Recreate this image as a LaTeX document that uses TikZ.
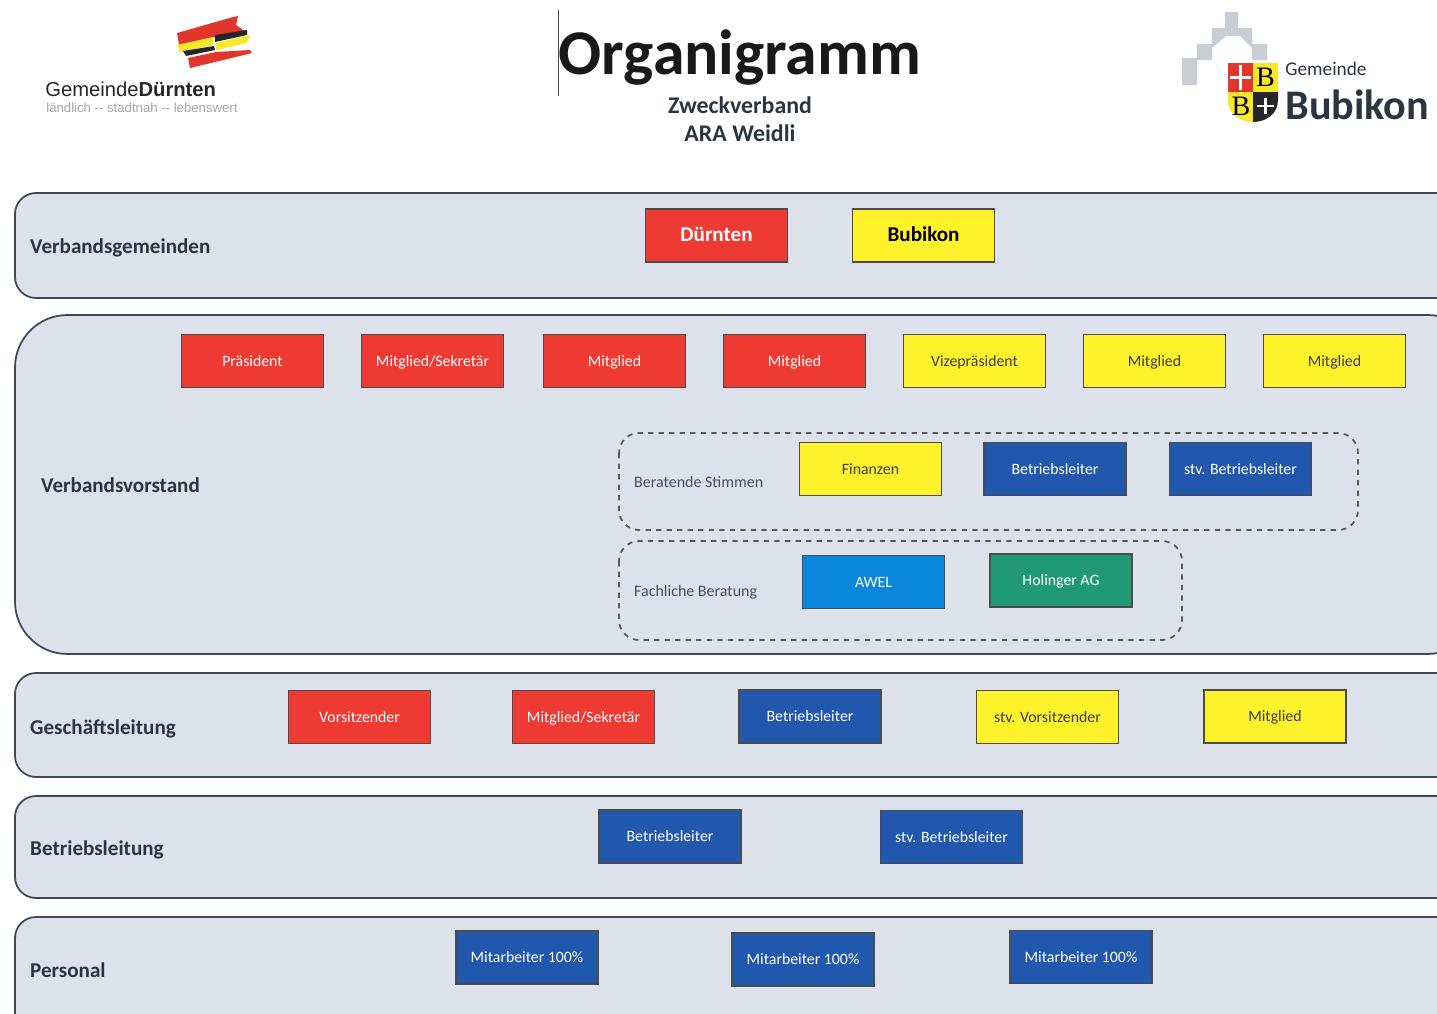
\documentclass[tikz,border=0pt]{standalone}
\usepackage{fontspec}
\setmainfont{Carlito}
\newfontfamily\logofont{Liberation Sans}
\newfontfamily\shieldfont{Liberation Serif}
\usetikzlibrary{calc}
\definecolor{panelfill}{HTML}{DCE1EC}
\definecolor{paneldraw}{HTML}{3E4A57}
\definecolor{textdark}{HTML}{2B3540}
\definecolor{textsoft}{HTML}{46505F}
\definecolor{boxred}{HTML}{EE3A33}
\definecolor{boxyellow}{HTML}{FFF22A}
\definecolor{boxblue}{HTML}{2257AE}
\definecolor{boxsky}{HTML}{0A86DC}
\definecolor{boxgreen}{HTML}{1F9A72}
\definecolor{logored}{HTML}{E2352C}
\definecolor{logoyellow}{HTML}{F7E92A}
\definecolor{logogray}{HTML}{C9CDD6}
\tikzset{
  panel/.style={draw=paneldraw, fill=panelfill, line width=0.35mm},
  panellabel/.style={anchor=west, text=textdark, font=\fontsize{12}{14}\selectfont\bfseries},
  memberbox/.style={draw=black!70, line width=0.3mm, minimum width=2.84cm, minimum height=1.06cm, inner sep=0pt, text height=1.7ex, text depth=0.5ex, font=\fontsize{9}{11}\selectfont},
  redbox/.style={memberbox, fill=boxred, text=white},
  yellowbox/.style={memberbox, fill=boxyellow, text=black!75},
  bluebox/.style={memberbox, fill=boxblue, text=white},
  skybox/.style={memberbox, fill=boxsky, text=white},
  greenbox/.style={memberbox, fill=boxgreen, text=white},
  dashpanel/.style={draw=black!65, dashed, line width=0.35mm, rounded corners=0.4cm},
  dashlabel/.style={anchor=west, text=textsoft, font=\fontsize{9.1}{11}\selectfont},
}
\begin{document}
\begin{tikzpicture}[x=0.02cm, y=-0.02cm]
	%%%%% START %%%%%
	\clip (0, 0) rectangle (1437, 1014);
	\fill[white] (0, 0) rectangle (1437, 1014);

	% title
	\draw[line width=0.2mm, black!70] (558, 10) -- (558, 96);
	\node[text=black!90] (title) at (740, 58) {\fontsize{36.3}{38}\selectfont\bfseries Organigramm};
	\node[text=textdark] (titlea) at (740, 105) {\fontsize{13.6}{15}\selectfont\bfseries Zweckverband};
	\node[text=textdark] (titleb) at (740, 133) {\fontsize{13.6}{15}\selectfont\bfseries ARA Weidli};

	% logo left
	\fill[logored] (177, 33) -- (233, 17) -- (238, 16) -- (236, 25) -- (246, 32) -- (215, 37) -- (179, 45) -- cycle;
	\fill[logored] (188, 58) -- (216, 52) -- (250, 50) -- (252, 53) -- (215, 62) -- (190, 68) -- cycle;
	\fill[black!85] (215, 35) -- (247, 30) -- (247, 35) -- (215, 42) -- cycle;
	\fill[logoyellow] (216, 43) -- (250, 35) -- (247, 43) -- (216, 50) -- cycle;
	\fill[logoyellow] (177, 45) -- (213, 37) -- (213, 45) -- (180, 52) -- cycle;
	\fill[black!85] (183, 51) -- (214, 46) -- (215, 50) -- (186, 56) -- cycle;
	\node[anchor=west, inner sep=0pt, text=black!85] (gemeindea) at (45, 89) {\logofont\fontsize{11.5}{13}\selectfont Gemeinde\textbf{Dürnten}};
	\node[anchor=west, inner sep=0pt, text=black!35] (sloganleft) at (46, 108) {\logofont\fontsize{7.5}{9}\selectfont ländlich -- stadtnah -- lebenswert};

	% logo right
	\fill[logogray] (1182, 58) -- (1197, 58) -- (1197, 44) -- (1212, 44) -- (1212, 28) -- (1225, 28) -- (1225, 12) -- (1238, 12) -- (1238, 28) -- (1252, 28) -- (1252, 44) -- (1267, 44) -- (1267, 60) -- (1252, 60) -- (1252, 48) -- (1240, 36) -- (1226, 36) -- (1212, 48) -- (1212, 60) -- (1197, 60) -- (1197, 85) -- (1182, 85) -- cycle;
	\fill[logored] (1228, 63) rectangle (1253, 92);
	\fill[logoyellow] (1253, 63) rectangle (1278, 92);
	\fill[logoyellow] (1228, 92) -- (1253, 92) -- (1253, 122) .. controls (1240, 122) and (1228, 114) .. (1228, 100) -- cycle;
	\fill[black!85] (1253, 92) -- (1278, 92) -- (1278, 100) .. controls (1278, 114) and (1266, 122) .. (1253, 122) -- cycle;
	\draw[white, line width=0.5mm] (1240.5, 65) -- (1240.5, 90) (1230, 77.5) -- (1251, 77.5) (1265.5, 98) -- (1265.5, 114) (1257, 106) -- (1274, 106);
	\node[inner sep=0pt] (shieldb) at (1265.5, 77) {\shieldfont\fontsize{16}{18}\selectfont B};
	\node[inner sep=0pt] (shieldc) at (1241, 106) {\shieldfont\fontsize{16}{18}\selectfont B};
	\node[anchor=west, inner sep=0pt, text=textdark] (gemeindeb) at (1285, 69) {\fontsize{11}{13}\selectfont Gemeinde};
	\node[anchor=west, inner sep=0pt, text=textdark] (bubikon) at (1285, 105) {\fontsize{24}{27}\selectfont\bfseries Bubikon};

	% panels
	\draw[panel, rounded corners=0.42cm] (15, 193) rectangle (1480, 298);
	\draw[panel, rounded corners=1.05cm] (15, 315) rectangle (1480, 654);
	\draw[panel, rounded corners=0.42cm] (15, 673) rectangle (1480, 777);
	\draw[panel, rounded corners=0.42cm] (15, 796) rectangle (1480, 898);
	\draw[panel, rounded corners=0.42cm] (15, 917) rectangle (1480, 1060);
	\draw[dashpanel] (619, 433) rectangle (1358, 530);
	\draw[dashpanel] (619, 541) rectangle (1182, 640);

	\node[panellabel] (lblgemeinden) at (24, 248) {Verbandsgemeinden};
	\node[panellabel] (lblvorstand) at (35, 485) {Verbandsvorstand};
	\node[panellabel] (lblleitung) at (24, 729) {Geschäftsleitung};
	\node[panellabel] (lblbetrieb) at (24, 850) {Betriebsleitung};
	\node[panellabel] (lblpersonal) at (24, 970) {Personal};
	\node[dashlabel] (lblstimmen) at (628, 482) {Beratende Stimmen};
	\node[dashlabel] (lblberatung) at (628, 592) {Fachliche Beratung};

	% Verbandsgemeinden
	\node[redbox, text height=2ex, font=\fontsize{12}{14}\selectfont\bfseries] (duernten) at (716.5, 235.5) {Dürnten};
	\node[yellowbox, text height=2ex, text=black, font=\fontsize{12}{14}\selectfont\bfseries] (bubikonbox) at (923.5, 235.5) {Bubikon};

	% Verbandsvorstand
	\node[redbox] (praesident) at (252.5, 361) {Präsident};
	\node[redbox] (sekretaer) at (432.5, 361) {Mitglied/Sekretär};
	\node[redbox] (mitgliedb) at (614.5, 361) {Mitglied};
	\node[redbox] (mitgliedc) at (794.5, 361) {Mitglied};
	\node[yellowbox] (vize) at (974.5, 361) {Vizepräsident};
	\node[yellowbox] (mitgliedd) at (1154.5, 361) {Mitglied};
	\node[yellowbox] (mitgliede) at (1334.5, 361) {Mitglied};
	\node[yellowbox] (finanzen) at (870.5, 469) {Finanzen};
	\node[bluebox] (leitera) at (1055, 469) {Betriebsleiter};
	\node[bluebox] (stva) at (1240.5, 469) {stv. Betriebsleiter};
	\node[skybox] (awel) at (873.5, 582) {AWEL};
	\node[greenbox] (holinger) at (1061, 580.5) {Holinger AG};

	% Geschaeftsleitung
	\node[redbox] (vorsitz) at (359.5, 717) {Vorsitzender};
	\node[redbox] (sekretaerb) at (583.5, 717) {Mitglied/Sekretär};
	\node[bluebox] (leiterb) at (810, 716.5) {Betriebsleiter};
	\node[yellowbox] (stvvorsitz) at (1047.5, 717) {stv. Vorsitzender};
	\node[yellowbox] (mitgliedf) at (1275, 716.5) {Mitglied};

	% Betriebsleitung
	\node[bluebox] (leiterc) at (670, 836.5) {Betriebsleiter};
	\node[bluebox] (stvc) at (951.5, 837) {stv. Betriebsleiter};

	% Personal
	\node[bluebox] (personala) at (527, 957.5) {Mitarbeiter 100\%};
	\node[bluebox] (personalb) at (803, 959.5) {Mitarbeiter 100\%};
	\node[bluebox] (personalc) at (1081, 957) {Mitarbeiter 100\%};
	%%%%% END %%%%%
\end{tikzpicture}
\end{document}
